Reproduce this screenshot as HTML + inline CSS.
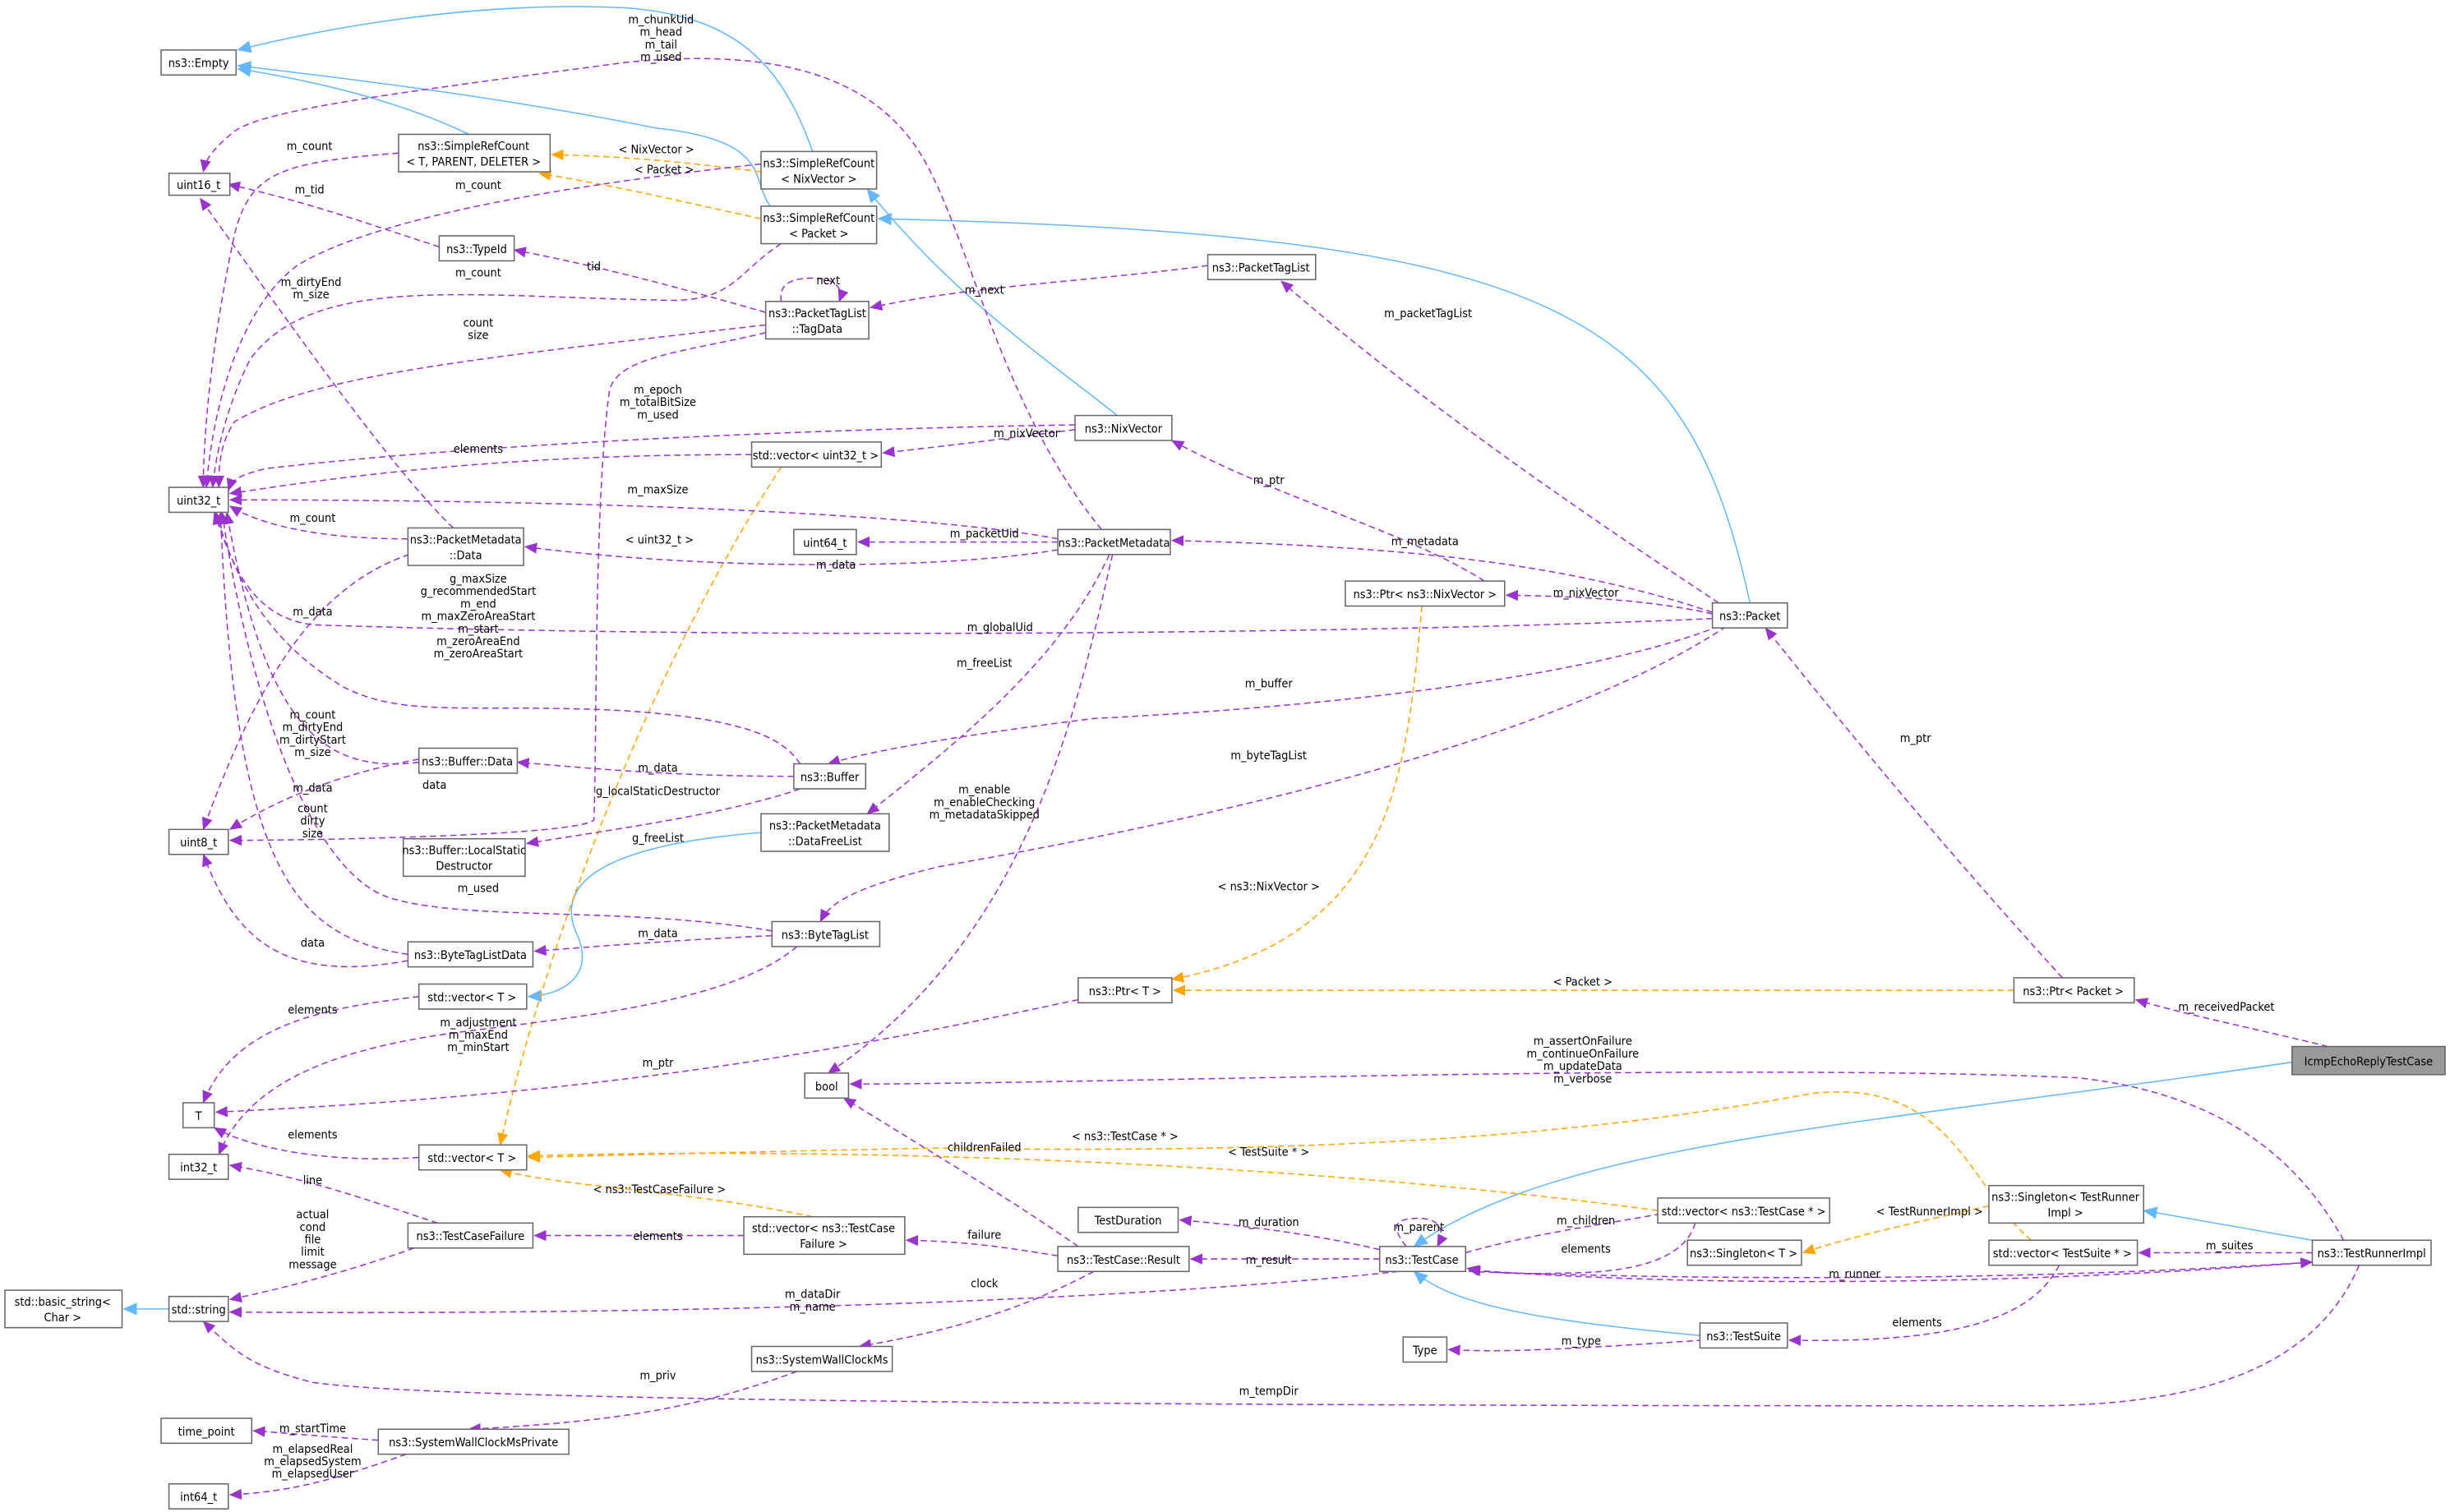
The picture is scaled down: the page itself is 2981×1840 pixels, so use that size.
<!DOCTYPE html>
<html><head><meta charset="utf-8"><style>
html,body{margin:0;padding:0;background:#fff}
svg{display:block}
text{font-family:"DejaVu Sans Condensed","Liberation Sans Narrow","Liberation Sans",sans-serif;font-size:7.6px;fill:#000;text-anchor:middle}
.n rect{fill:#fff;stroke:#666;stroke-width:0.8}
.p{fill:none;stroke:#9a32cd;stroke-width:0.8;stroke-dasharray:4,2.5}
.b{fill:none;stroke:#63b8ff;stroke-width:0.8}
.o{fill:none;stroke:#ffa500;stroke-width:0.8;stroke-dasharray:4,2.5}
</style></head><body>
<svg width="2981" height="1840" viewBox="0 0 1568 968" xmlns="http://www.w3.org/2000/svg">
<defs>
<marker id="mp" markerWidth="8" markerHeight="7" refX="7.5" refY="3.5" orient="auto" markerUnits="userSpaceOnUse"><path d="M0,0L8,3.5L0,7z" fill="#9a32cd"/></marker>
<marker id="mb" markerWidth="9" markerHeight="8" refX="8.5" refY="4" orient="auto" markerUnits="userSpaceOnUse"><path d="M0,0L9,4L0,8z" fill="#63b8ff"/></marker>
<marker id="mo" markerWidth="8" markerHeight="7" refX="7.5" refY="3.5" orient="auto" markerUnits="userSpaceOnUse"><path d="M0,0L8,3.5L0,7z" fill="#ffa500"/></marker>
</defs>
<rect width="1568" height="968" fill="#fff"/>

<g marker-end="url(#mb)">
<path class="b" d="M300,86 C250,62 190,50 152,44"/>
<path class="b" d="M520,97 C500,40 470,10 400,5 C300,0 200,20 152,32"/>
<path class="b" d="M493,132 C480,115 495,90 420,82 C320,62 220,50 152,42"/>
<path class="b" d="M715,266 C670,230 610,190 555,121"/>
<path class="b" d="M1120,386 C1080,200 1000,150 562,140"/>
<path class="b" d="M487,533 C400,540 350,560 370,600 C380,625 360,637 338,638"/>
<path class="b" d="M1467,680 C1200,720 1000,730 905,798"/>
<path class="b" d="M1480,794 L1372,775"/>
<path class="b" d="M1088,855 C980,845 930,835 905,814"/>
<path class="b" d="M108,838 L79,838"/>
</g>

<g marker-end="url(#mo)">
<path class="o" d="M487,110 C440,104 400,100 353,99"/>
<path class="o" d="M487,140 C440,130 400,120 345,111"/>
<path class="o" d="M500,299 C420,420 350,600 320,733"/>
<path class="o" d="M910,388 C900,500 890,600 750,627"/>
<path class="o" d="M1289,634 L751,634"/>
<path class="o" d="M1061,775 C800,740 500,735 338,740"/>
<path class="o" d="M1300,794 C1260,760 1250,690 1160,700 C1050,720 900,740 600,735 C450,738 380,740 338,741"/>
<path class="o" d="M520,779 C440,762 360,760 320,749"/>
<path class="o" d="M1273,772 C1230,782 1190,790 1154,802"/>
</g>

<g marker-end="url(#mp)">
<path class="p" d="M255,98 C180,104 160,110 150,150 C135,220 130,280 130,312"/>
<path class="p" d="M487,105 C350,120 240,140 190,170 C150,200 135,270 132,312"/>
<path class="p" d="M500,156 C470,175 470,195 420,192 C300,190 200,175 160,230 C145,260 138,290 136,312"/>
<path class="p" d="M281,158 C240,145 200,130 146,118"/>
<path class="p" d="M490,200 C420,180 380,170 329,160"/>
<path class="p" d="M490,208 C300,230 200,240 150,270 C140,285 140,300 140,312"/>
<path class="p" d="M500,193 C498,183 505,178 520,178 C535,178 540,185 537,193"/>
<path class="p" d="M773,170 C700,180 620,183 557,197"/>
<path class="p" d="M490,213 C440,225 395,228 390,250 C380,320 382,480 380,525 C370,535 200,538 147,538"/>
<path class="p" d="M688,272 C500,275 300,285 170,300 C150,305 148,308 146,314"/>
<path class="p" d="M688,275 C650,280 610,285 565,290"/>
<path class="p" d="M481,291 C350,291 250,300 147,316"/>
<path class="p" d="M677,345 C600,330 400,320 147,320"/>
<path class="p" d="M677,347 L549,347"/>
<path class="p" d="M677,352 C600,365 450,365 336,350"/>
<path class="p" d="M705,339 C640,260 620,150 590,100 C560,50 500,30 400,40 C250,60 170,70 150,84 C138,94 132,100 130,110"/>
<path class="p" d="M710,355 C680,420 620,470 555,521"/>
<path class="p" d="M712,355 C690,450 660,600 530,687"/>
<path class="p" d="M261,345 C200,345 165,335 147,324"/>
<path class="p" d="M290,338 C250,300 180,200 128,127"/>
<path class="p" d="M268,353 C210,370 170,420 130,531"/>
<path class="p" d="M1100,386 C1000,320 900,250 820,180"/>
<path class="p" d="M1096,392 C1000,360 900,350 750,346"/>
<path class="p" d="M1096,393 C1060,385 1020,382 964,381"/>
<path class="p" d="M1096,396 C900,405 500,410 200,400 C160,395 148,360 137,328"/>
<path class="p" d="M1100,401 C1000,440 800,455 700,460 C620,470 560,480 530,489"/>
<path class="p" d="M1105,401 C1000,470 800,520 600,555 C540,570 530,580 525,590"/>
<path class="p" d="M950,372 C900,340 820,320 750,282"/>
<path class="p" d="M512,489 C500,470 470,460 400,455 C300,450 260,460 220,440 C170,410 150,370 138,328"/>
<path class="p" d="M508,497 C430,497 380,492 331,488"/>
<path class="p" d="M512,505 C470,520 400,530 337,540"/>
<path class="p" d="M268,488 C210,495 170,470 145,328"/>
<path class="p" d="M268,486 C220,495 180,510 147,531"/>
<path class="p" d="M494,596 C400,580 300,590 250,575 C200,560 160,450 142,328"/>
<path class="p" d="M494,599 C430,602 380,606 342,609"/>
<path class="p" d="M510,606 C470,640 380,650 300,660 C220,670 160,690 140,739"/>
<path class="p" d="M261,611 C190,600 150,560 141,328"/>
<path class="p" d="M261,615 C180,630 150,600 130,547"/>
<path class="p" d="M268,638 C210,645 150,655 130,706"/>
<path class="p" d="M690,640 C550,670 400,700 138,712"/>
<path class="p" d="M1320,626 C1260,560 1200,490 1130,402"/>
<path class="p" d="M1490,670 C1450,660 1400,650 1367,640"/>
<path class="p" d="M1500,794 C1470,740 1420,700 1330,690 C1100,680 700,694 544,694"/>
<path class="p" d="M268,741 C210,745 160,735 137,722"/>
<path class="p" d="M280,783 C240,770 200,755 147,746"/>
<path class="p" d="M265,799 C220,815 180,825 147,832"/>
<path class="p" d="M476,791 C420,791 380,791 342,791"/>
<path class="p" d="M677,804 C640,798 620,795 580,794"/>
<path class="p" d="M690,798 C650,770 600,740 540,703"/>
<path class="p" d="M700,814 C660,835 620,850 550,862"/>
<path class="p" d="M883,800 C840,790 800,785 755,781"/>
<path class="p" d="M883,806 L762,806"/>
<path class="p" d="M900,798 C890,785 892,780 908,780 C922,780 925,788 920,798"/>
<path class="p" d="M938,802 C980,790 1020,785 1075,775"/>
<path class="p" d="M1085,783 C1080,800 1060,815 1000,815 C970,816 955,815 939,812"/>
<path class="p" d="M895,814 C700,835 400,842 147,840"/>
<path class="p" d="M1480,802 L1369,802"/>
<path class="p" d="M940,814 C1100,820 1300,820 1480,808"/>
<path class="p" d="M1318,810 C1300,845 1250,860 1145,858"/>
<path class="p" d="M1090,858 C1000,864 960,866 927,864"/>
<path class="p" d="M1510,810 C1480,880 1400,900 1300,900 C1000,900 300,900 200,885 C160,875 150,865 130,846"/>
<path class="p" d="M510,878 C450,900 400,910 300,915"/>
<path class="p" d="M242,922 C210,920 190,918 162,916"/>
<path class="p" d="M260,931 C220,945 190,955 147,957"/>
<path class="p" d="M1480,808 C1300,822 1100,825 940,813"/>
</g>

<g>
<text x="423" y="15">m_chunkUid</text><text x="423" y="23">m_head</text><text x="423" y="31">m_tail</text><text x="423" y="39">m_used</text>
<text x="198" y="96">m_count</text>
<text x="420" y="98">&lt; NixVector &gt;</text>
<text x="425" y="111">&lt; Packet &gt;</text>
<text x="306" y="121">m_count</text>
<text x="198" y="124">m_tid</text>
<text x="306" y="177">m_count</text>
<text x="380" y="173">tid</text>
<text x="530" y="182">next</text>
<text x="630" y="188">m_next</text>
<text x="199" y="183">m_dirtyEnd</text><text x="199" y="191">m_size</text>
<text x="306" y="209">count</text><text x="306" y="217">size</text>
<text x="914" y="203">m_packetTagList</text>
<text x="421" y="252">m_epoch</text><text x="421" y="260">m_totalBitSize</text><text x="421" y="268">m_used</text>
<text x="306" y="290">elements</text>
<text x="657" y="280">m_nixVector</text>
<text x="812" y="310">m_ptr</text>
<text x="421" y="316">m_maxSize</text>
<text x="200" y="334">m_count</text>
<text x="630" y="344">m_packetUid</text>
<text x="422" y="348">&lt; uint32_t &gt;</text>
<text x="535" y="364">m_data</text>
<text x="912" y="349">m_metadata</text>
<text x="1015" y="382">m_nixVector</text>
<text x="200" y="394">m_data</text>
<text x="640" y="404">m_globalUid</text>
<text x="306" y="373">g_maxSize</text><text x="306" y="381">g_recommendedStart</text><text x="306" y="389">m_end</text><text x="306" y="397">m_maxZeroAreaStart</text><text x="306" y="405">m_start</text><text x="306" y="413">m_zeroAreaEnd</text><text x="306" y="421">m_zeroAreaStart</text>
<text x="630" y="427">m_freeList</text>
<text x="812" y="440">m_buffer</text>
<text x="1226" y="475">m_ptr</text>
<text x="200" y="460">m_count</text><text x="200" y="468">m_dirtyEnd</text><text x="200" y="476">m_dirtyStart</text><text x="200" y="484">m_size</text>
<text x="812" y="486">m_byteTagList</text>
<text x="421" y="494">m_data</text>
<text x="630" y="508">m_enable</text><text x="630" y="516">m_enableChecking</text><text x="630" y="524">m_metadataSkipped</text>
<text x="200" y="507">m_data</text>
<text x="278" y="505">data</text>
<text x="421" y="509">g_localStaticDestructor</text>
<text x="200" y="520">count</text><text x="200" y="528">dirty</text><text x="200" y="536">size</text>
<text x="421" y="539">g_freeList</text>
<text x="812" y="570">&lt; ns3::NixVector &gt;</text>
<text x="306" y="571">m_used</text>
<text x="421" y="600">m_data</text>
<text x="200" y="606">data</text>
<text x="1013" y="631">&lt; Packet &gt;</text>
<text x="1425" y="647">m_receivedPacket</text>
<text x="200" y="649">elements</text>
<text x="306" y="657">m_adjustment</text><text x="306" y="665">m_maxEnd</text><text x="306" y="673">m_minStart</text>
<text x="421" y="683">m_ptr</text>
<text x="1013" y="669">m_assertOnFailure</text><text x="1013" y="677">m_continueOnFailure</text><text x="1013" y="685">m_updateData</text><text x="1013" y="693">m_verbose</text>
<text x="200" y="729">elements</text>
<text x="720" y="730">&lt; ns3::TestCase * &gt;</text>
<text x="630" y="737">childrenFailed</text>
<text x="812" y="740">&lt; TestSuite * &gt;</text>
<text x="200" y="758">line</text>
<text x="422" y="764">&lt; ns3::TestCaseFailure &gt;</text>
<text x="1235" y="778">&lt; TestRunnerImpl &gt;</text>
<text x="200" y="780">actual</text><text x="200" y="788">cond</text><text x="200" y="796">file</text><text x="200" y="804">limit</text><text x="200" y="812">message</text>
<text x="812" y="785">m_duration</text>
<text x="908" y="788">m_parent</text>
<text x="1015" y="784">m_children</text>
<text x="421" y="794">elements</text>
<text x="630" y="793">failure</text>
<text x="1427" y="800">m_suites</text>
<text x="1015" y="802">elements</text>
<text x="812" y="809">m_result</text>
<text x="1187" y="818">m_runner</text>
<text x="630" y="824">clock</text>
<text x="520" y="831">m_dataDir</text><text x="520" y="839">m_name</text>
<text x="1227" y="849">elements</text>
<text x="1012" y="861">m_type</text>
<text x="421" y="883">m_priv</text>
<text x="812" y="893">m_tempDir</text>
<text x="200" y="917">m_startTime</text>
<text x="200" y="930">m_elapsedReal</text><text x="200" y="938">m_elapsedSystem</text><text x="200" y="946">m_elapsedUser</text>
</g>

<g class="n">
<rect x="103" y="32" width="48" height="16"/><text x="127" y="43">ns3::Empty</text>
<rect x="108" y="111" width="39" height="14"/><text x="127" y="121">uint16_t</text>
<rect x="255" y="86" width="97" height="24"/><text x="303" y="96">ns3::SimpleRefCount</text><text x="303" y="106">&lt; T, PARENT, DELETER &gt;</text>
<rect x="487" y="97" width="74" height="24"/><text x="524" y="107">ns3::SimpleRefCount</text><text x="524" y="117">&lt; NixVector &gt;</text>
<rect x="487" y="132" width="74" height="24"/><text x="524" y="142">ns3::SimpleRefCount</text><text x="524" y="152">&lt; Packet &gt;</text>
<rect x="281" y="151" width="48" height="16"/><text x="305" y="162">ns3::TypeId</text>
<rect x="490" y="193" width="66" height="24"/><text x="523" y="203">ns3::PacketTagList</text><text x="523" y="213">::TagData</text>
<rect x="773" y="163" width="69" height="16"/><text x="807" y="174">ns3::PacketTagList</text>
<rect x="688" y="266" width="62" height="16"/><text x="719" y="277">ns3::NixVector</text>
<rect x="481" y="283" width="83" height="16"/><text x="522" y="294">std::vector&lt; uint32_t &gt;</text>
<rect x="108" y="312" width="38" height="16"/><text x="127" y="323">uint32_t</text>
<rect x="508" y="339" width="40" height="16"/><text x="528" y="350">uint64_t</text>
<rect x="677" y="339" width="72" height="16"/><text x="713" y="350">ns3::PacketMetadata</text>
<rect x="261" y="338" width="74" height="24"/><text x="298" y="348">ns3::PacketMetadata</text><text x="298" y="358">::Data</text>
<rect x="861" y="372" width="102" height="16"/><text x="912" y="383">ns3::Ptr&lt; ns3::NixVector &gt;</text>
<rect x="1096" y="386" width="48" height="16"/><text x="1120" y="397">ns3::Packet</text>
<rect x="268" y="479" width="63" height="16"/><text x="299" y="490">ns3::Buffer::Data</text>
<rect x="508" y="489" width="46" height="16"/><text x="531" y="500">ns3::Buffer</text>
<rect x="108" y="531" width="38" height="16"/><text x="127" y="542">uint8_t</text>
<rect x="487" y="521" width="82" height="24"/><text x="528" y="531">ns3::PacketMetadata</text><text x="528" y="541">::DataFreeList</text>
<rect x="258" y="537" width="78" height="24"/><text x="297" y="547">ns3::Buffer::LocalStatic</text><text x="297" y="557">Destructor</text>
<rect x="494" y="590" width="69" height="16"/><text x="528" y="601">ns3::ByteTagList</text>
<rect x="261" y="603" width="80" height="16"/><text x="301" y="614">ns3::ByteTagListData</text>
<rect x="268" y="630" width="69" height="16"/><text x="302" y="641">std::vector&lt; T &gt;</text>
<rect x="690" y="626" width="60" height="16"/><text x="720" y="637">ns3::Ptr&lt; T &gt;</text>
<rect x="1289" y="626" width="77" height="16"/><text x="1327" y="637">ns3::Ptr&lt; Packet &gt;</text>
<rect x="117" y="706" width="20" height="16"/><text x="127" y="717">T</text>
<rect x="515" y="687" width="28" height="16"/><text x="529" y="698">bool</text>
<rect x="1467" y="670" width="98" height="18" style="fill:#999;stroke:#666"/><text x="1516" y="682">IcmpEchoReplyTestCase</text>
<rect x="108" y="739" width="38" height="16"/><text x="127" y="750">int32_t</text>
<rect x="268" y="733" width="69" height="16"/><text x="302" y="744">std::vector&lt; T &gt;</text>
<rect x="690" y="773" width="64" height="16"/><text x="722" y="784">TestDuration</text>
<rect x="476" y="779" width="103" height="24"/><text x="527" y="789">std::vector&lt; ns3::TestCase</text><text x="527" y="799">Failure &gt;</text>
<rect x="261" y="783" width="80" height="16"/><text x="301" y="794">ns3::TestCaseFailure</text>
<rect x="1061" y="767" width="110" height="16"/><text x="1116" y="778">std::vector&lt; ns3::TestCase * &gt;</text>
<rect x="1273" y="759" width="99" height="24"/><text x="1322" y="769">ns3::Singleton&lt; TestRunner</text><text x="1322" y="779">Impl &gt;</text>
<rect x="1080" y="794" width="73" height="16"/><text x="1116" y="805">ns3::Singleton&lt; T &gt;</text>
<rect x="1273" y="794" width="95" height="16"/><text x="1320" y="805">std::vector&lt; TestSuite * &gt;</text>
<rect x="1480" y="794" width="76" height="16"/><text x="1518" y="805">ns3::TestRunnerImpl</text>
<rect x="3" y="826" width="75" height="24"/><text x="40" y="836">std::basic_string&lt;</text><text x="40" y="846">Char &gt;</text>
<rect x="108" y="830" width="38" height="16"/><text x="127" y="841">std::string</text>
<rect x="677" y="798" width="84" height="16"/><text x="719" y="809">ns3::TestCase::Result</text>
<rect x="883" y="798" width="55" height="16"/><text x="910" y="809">ns3::TestCase</text>
<rect x="1088" y="847" width="56" height="16"/><text x="1116" y="858">ns3::TestSuite</text>
<rect x="481" y="862" width="90" height="16"/><text x="526" y="873">ns3::SystemWallClockMs</text>
<rect x="898" y="856" width="28" height="16"/><text x="912" y="867">Type</text>
<rect x="103" y="908" width="58" height="16"/><text x="132" y="919">time_point</text>
<rect x="242" y="915" width="122" height="16"/><text x="303" y="926">ns3::SystemWallClockMsPrivate</text>
<rect x="108" y="950" width="38" height="16"/><text x="127" y="961">int64_t</text>
</g>
</svg>
</body></html>
